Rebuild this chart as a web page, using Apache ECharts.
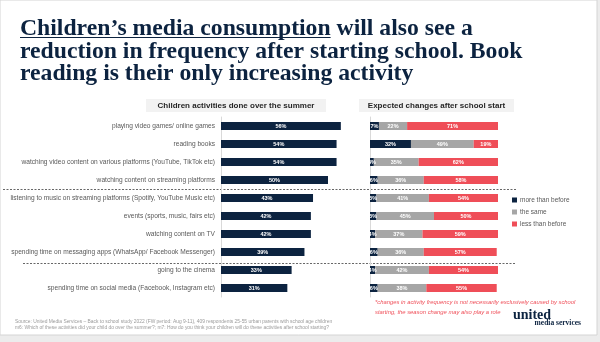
<!DOCTYPE html>
<html><head><meta charset="utf-8">
<script src="https://cdn.jsdelivr.net/npm/echarts@6/dist/echarts.min.js"></script>
<style>html,body{margin:0;padding:0;background:#ececec}#c{width:600px;height:342px}</style>
</head><body><div id="c"></div>
<script>
const categories = [
  'playing video games/ online games',
  'reading books',
  'watching video content on various platforms (YouTube, TikTok etc)',
  'watching content on streaming platforms',
  'listening to music on streaming platforms (Spotify, YouTube Music etc)',
  'events (sports, music, fairs etc)',
  'watching content on TV',
  'spending time on messaging apps (WhatsApp/ Facebook Messenger)',
  'going to the cinema',
  'spending time on social media (Facebook, Instagram etc)'
];
const summerDone = [56, 54, 54, 50, 43, 42, 42, 39, 33, 31];
const moreThanBefore = [7, 32, 3, 6, 5, 5, 4, 6, 4, 6];
const theSame = [22, 49, 35, 36, 41, 45, 37, 36, 42, 38];
const lessThanBefore = [71, 19, 62, 58, 54, 50, 59, 57, 54, 55];
const seriesNames = ['more than before', 'the same', 'less than before'];
const titleLines = [
  ['Children\u2019s media consumption', ' will also see a'],
  ['', 'reduction in frequency after starting school. Book'],
  ['', 'reading is their only increasing activity']
];
const headerLeft = 'Children activities done over the summer';
const headerRight = 'Expected changes after school start';
const footnote = ['*changes in activity frequency is not necessarily exclusively caused by school',
                  'starting, the season change may also play a role'];
const sourceLines = ['Source: United Media Services \u2013 Back to school study 2022 (FW period: Aug 9-11), 409 respondents 25-55 urban parents with school age children',
                     'm6: Which of these activities did your child do over the summer?; m7: How do you think your children will do these activities after school starting?'];

const NAVY = '#0c2340', GRAY = '#a6a6a6', RED = '#ef4e58';
const TFONT = 'bold 23.7px "Liberation Serif"';
const cv = document.createElement('canvas').getContext('2d');
cv.font = TFONT;
const ulWidth = cv.measureText(titleLines[0][0]).width;

const chart = echarts.init(document.getElementById('c'), null, {renderer: 'canvas'});
const barLabel = {show: true, position: 'inside', color: '#fff', fontSize: 5.5, fontWeight: 'bold', fontFamily: 'Liberation Sans', formatter: p => p.value + '%'};

const graphics = [
  {type: 'rect', shape: {x: 0, y: 0, width: 597, height: 335}, style: {fill: '#fff', stroke: '#d4d4d4', lineWidth: 1}, z: -10},
  {type: 'text', left: 20, top: 16.5, style: {text: titleLines[0][0], font: TFONT, fill: NAVY}},
  {type: 'text', left: 20 + ulWidth, top: 16.5, style: {text: titleLines[0][1], font: TFONT, fill: NAVY}},
  {type: 'line', shape: {x1: 20, y1: 37.5, x2: 20 + ulWidth, y2: 37.5}, style: {stroke: NAVY, lineWidth: 1.2}},
  {type: 'text', left: 20, top: 39.5, style: {text: titleLines[1][1], font: TFONT, fill: NAVY}},
  {type: 'text', left: 20, top: 62, style: {text: titleLines[2][1], font: TFONT, fill: NAVY}},
  {type: 'rect', shape: {x: 146, y: 99, width: 180, height: 13}, style: {fill: '#f2f2f2'}},
  {type: 'text', x: 236, y: 105.5, style: {text: headerLeft, font: 'bold 8px "Liberation Sans"', fill: '#262626', align: 'center', verticalAlign: 'middle'}},
  {type: 'rect', shape: {x: 359, y: 99, width: 155, height: 13}, style: {fill: '#f2f2f2'}},
  {type: 'text', x: 436.5, y: 105.5, style: {text: headerRight, font: 'bold 8px "Liberation Sans"', fill: '#262626', align: 'center', verticalAlign: 'middle'}},
  {type: 'line', shape: {x1: 3, y1: 189.5, x2: 516, y2: 189.5}, style: {stroke: '#404040', lineWidth: 0.8, lineDash: [2, 1.5]}},
  {type: 'line', shape: {x1: 23, y1: 263.5, x2: 516, y2: 263.5}, style: {stroke: '#404040', lineWidth: 0.8, lineDash: [2, 1.5]}},
  {type: 'text', x: 375, y: 302, style: {text: footnote[0], font: 'italic 5.85px "Liberation Sans"', fill: RED, verticalAlign: 'middle'}},
  {type: 'text', x: 375, y: 312, style: {text: footnote[1], font: 'italic 5.85px "Liberation Sans"', fill: RED, verticalAlign: 'middle'}},
  {type: 'text', x: 15, y: 321.5, style: {text: sourceLines[0], font: '4.9px "Liberation Sans"', fill: '#9a9a9a', verticalAlign: 'middle'}},
  {type: 'text', x: 15, y: 327.5, style: {text: sourceLines[1], font: '4.9px "Liberation Sans"', fill: '#9a9a9a', verticalAlign: 'middle'}},
  {type: 'text', x: 513, y: 315, style: {text: 'united', font: 'bold 14px "Liberation Serif"', fill: NAVY, verticalAlign: 'middle'}},
  {type: 'text', x: 581, y: 323.5, style: {text: 'media services', font: 'bold 7.5px "Liberation Serif"', fill: NAVY, align: 'right', verticalAlign: 'middle'}}
];

const option = {
  backgroundColor: '#ececec',
  animation: false,
  textStyle: {fontFamily: 'Liberation Sans'},
  legend: {
    data: seriesNames, orient: 'vertical', left: 507, top: 191,
    itemWidth: 5, itemHeight: 5, itemGap: 4, icon: 'rect',
    textStyle: {fontSize: 6.5, color: '#595959', lineHeight: 8, padding: [0, 0, 0, -2]}
  },
  grid: [
    {left: 221, top: 117, width: 214, height: 180},
    {left: 370, top: 117, width: 128, height: 180}
  ],
  xAxis: [
    {gridIndex: 0, type: 'value', min: 0, max: 100, show: false},
    {gridIndex: 1, type: 'value', min: 0, max: 100, show: false}
  ],
  yAxis: [
    {gridIndex: 0, type: 'category', data: categories, inverse: true,
     axisLine: {show: true, lineStyle: {color: '#d9d9d9'}}, axisTick: {show: false},
     axisLabel: {fontSize: 6.6, color: '#595959', margin: 6, fontFamily: 'Liberation Sans'}},
    {gridIndex: 1, type: 'category', data: categories, inverse: true,
     axisLine: {show: true, lineStyle: {color: '#d9d9d9'}}, axisTick: {show: false}, axisLabel: {show: false}}
  ],
  series: [
    {type: 'bar', name: 'summer', xAxisIndex: 0, yAxisIndex: 0, data: summerDone, barWidth: 8,
     itemStyle: {color: NAVY}, label: barLabel},
    {type: 'bar', name: seriesNames[0], xAxisIndex: 1, yAxisIndex: 1, stack: 'chg', data: moreThanBefore, barWidth: 8,
     itemStyle: {color: NAVY}, label: barLabel},
    {type: 'bar', name: seriesNames[1], xAxisIndex: 1, yAxisIndex: 1, stack: 'chg', data: theSame, barWidth: 8,
     itemStyle: {color: GRAY}, label: barLabel},
    {type: 'bar', name: seriesNames[2], xAxisIndex: 1, yAxisIndex: 1, stack: 'chg', data: lessThanBefore, barWidth: 8,
     itemStyle: {color: RED}, label: barLabel}
  ],
  graphic: graphics
};
chart.setOption(option);
</script></body></html>
